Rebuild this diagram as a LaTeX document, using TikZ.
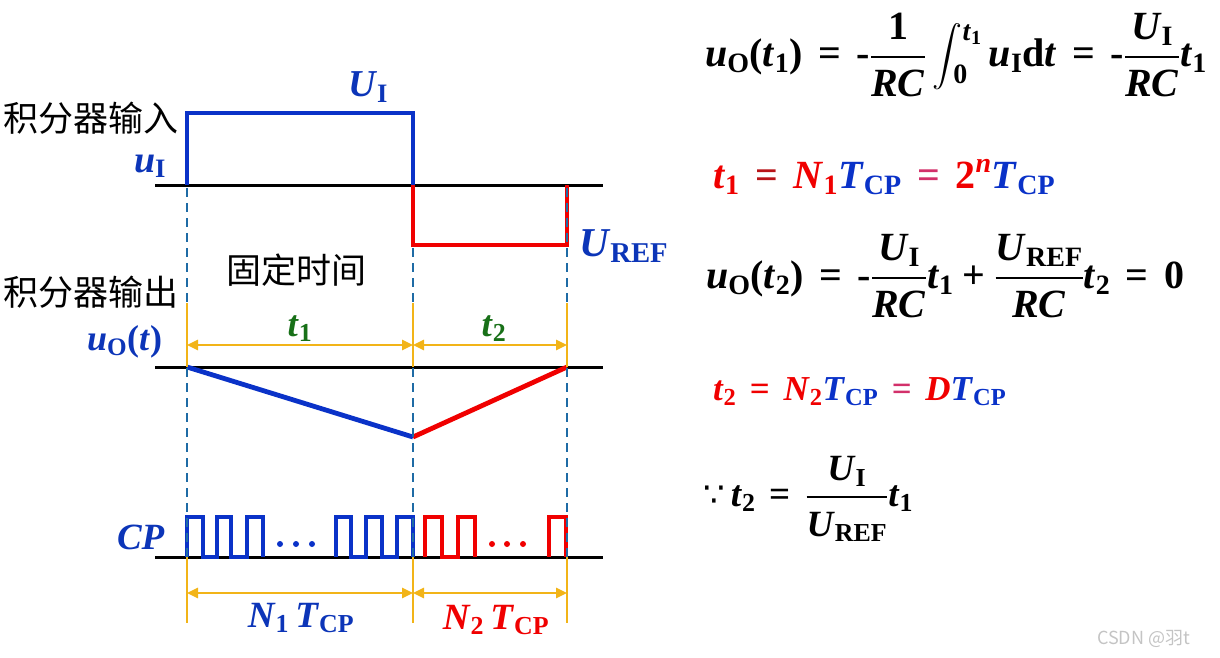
\documentclass[tikz,border=0pt]{standalone}
\usepackage{fix-cm}
\usepackage{amsmath}
\usepackage{fontspec}
\setmainfont{Liberation Serif}
\newfontfamily\cjk{Noto Sans CJK SC}
\newfontfamily\dvs{DejaVu Sans}
\usetikzlibrary{arrows.meta}
\definecolor{wblue}{HTML}{0A32C8}
\definecolor{lblue}{HTML}{0C35B8}
\definecolor{wred}{HTML}{F00000}
\definecolor{dred}{HTML}{B81418}
\definecolor{pinkeq}{HTML}{D2306A}
\definecolor{dashc}{HTML}{1F6BA5}
\definecolor{ylw}{HTML}{F2B418}
\definecolor{grn}{HTML}{187018}
\definecolor{wm}{HTML}{C4C4C4}
\newcommand\vi[1]{\textbf{\textit{#1}}}
\newcommand\su[1]{\textbf{#1}}
\newcommand\eqs{\mathrel{\mkern2mu\textbf{=}\mkern2mu}}
\newcommand\mns{\textbf{-}}
\newcommand\fr[2]{\genfrac{}{}{2.4pt}{0}{#1\rule[-7pt]{0pt}{7pt}}{\rule{0pt}{31pt}#2}}
\newcommand\bigint[2]{\mathop{\vcenter{\hbox{\scalebox{1.2}{$\displaystyle\int$}}}}\nolimits_{\mkern-6mu\raisebox{8pt}{$\scriptstyle #1$}}^{\raisebox{-6pt}{$\scriptstyle #2$}}}
\begin{document}
\begin{tikzpicture}[x=1pt,y=-1pt,
  sig/.style={line width=4.8pt, line join=miter},
  baseln/.style={line width=3pt, black},
  guide/.style={dashc, line width=2.4pt, dash pattern=on 9pt off 6pt},
  yl/.style={ylw, line width=2.5pt},
  dimarrow/.style={ylw, line width=2.5pt, {Triangle[length=11pt,width=10pt]}-{Triangle[length=11pt,width=10pt]}},
  lab/.style={inner sep=0pt, outer sep=0pt},
  cn/.style={lab, font=\cjk\fontsize{35}{40}\selectfont},
  sl/.style={lab, font=\fontsize{38}{44}\selectfont},
  ml/.style={lab, font=\fontsize{37}{42}\selectfont},
  eq/.style={lab, anchor=base west, font=\fontsize{40}{48}\selectfont}]
\useasboundingbox (0,0) rectangle (1220,658);

% baselines
\draw[baseln] (155,185) coordinate (inL) -- (603,185) coordinate (inR);
\draw[baseln] (155,367) coordinate (outL) -- (603,367) coordinate (outR);
\draw[baseln] (155,557) coordinate (cpL) -- (603,557) coordinate (cpR);

% input signal
\draw[sig, wblue] (187,185) -- (187,113) -- (413,113) -- (413,185);
\draw[sig, wred] (413,185) -- (413,245) -- (567,245) -- (567,185);

% output ramps
\coordinate (o1) at (187,367); \coordinate (o2) at (413,437); \coordinate (o3) at (567,367);
\draw[sig, wblue] (o1) -- (o2);
\draw[sig, wred] (o2) -- (o3);

% clock pulses
\draw[sig, wblue] (187,557) -- (187,517) -- (203,517) -- (203,557) -- (217,557) -- (217,517) -- (231,517) -- (231,557) -- (247,557) -- (247,517) -- (263,517) -- (263,557);
\draw[sig, wblue] (336,557) -- (336,517) -- (351,517) -- (351,557) -- (366,557) -- (366,517) -- (382,517) -- (382,557) -- (397,557) -- (397,517) -- (413,517) -- (413,557);
\draw[sig, wred] (425,557) -- (425,517) -- (442,517) -- (442,557) -- (458,557) -- (458,517) -- (475,517) -- (475,557);
\draw[sig, wred] (549,557) -- (549,517) -- (566,517) -- (566,557);
\foreach \x in {280,296,312} \fill[wblue] (\x,544) circle (3pt);
\foreach \x in {492,507,523} \fill[wred] (\x,544) circle (3pt);

% dashed guides
\draw[guide] (187,188) -- (187,557);
\draw[guide] (413,248) -- (413,557);
\draw[guide] (567,188) -- (567,557);

% yellow dimension lines
\draw[yl] (187,303) -- (187,367);
\draw[yl] (413,303) -- (413,367);
\draw[yl] (567,303) -- (567,367);
\draw[yl] (187,557) -- (187,623);
\draw[yl] (413,557) -- (413,623);
\draw[yl] (567,557) -- (567,623);
\coordinate (d1) at (187,345); \coordinate (d2) at (413,345); \coordinate (d3) at (567,345);
\coordinate (e1) at (187,593); \coordinate (e2) at (413,593); \coordinate (e3) at (567,593);
\draw[dimarrow] (d1) -- (d2);
\draw[dimarrow] (d2) -- (d3);
\draw[dimarrow] (e1) -- (e2);
\draw[dimarrow] (e2) -- (e3);

% left labels
\node[cn, anchor=west] (in) at (3,118) {积分器输入};
\node[cn, anchor=west] (out) at (3,292) {积分器输出};
\node[cn] (fix) at (296,270) {固定时间};
\node[sl, anchor=base, text=lblue] (UI) at (368,97) {$\vi{U}_{\su{I}}$};
\node[sl, anchor=base west, text=lblue] (uI) at (134,172) {$\vi{u}_{\su{I}}$};
\node[sl, anchor=base west, text=lblue, font=\fontsize{41}{46}\selectfont] (UREF) at (579,256) {$\vi{U}_{\su{REF}}$};
\node[ml, anchor=base west, text=lblue, font=\fontsize{36}{42}\selectfont] (uO) at (87,350) {$\vi{u}_{\su{O}}\textbf{(}\vi{t}\textbf{)}$};
\node[ml, anchor=base, text=grn] (t1) at (300,336) {$\vi{t}_{\su{1}}$};
\node[ml, anchor=base, text=grn] (t2) at (494,336) {$\vi{t}_{\su{2}}$};
\node[ml, anchor=base west, text=lblue] (CP) at (117,549) {\vi{CP}};
\node[ml, anchor=base, text=lblue] (N1) at (301,627) {$\vi{N}_{\su{1}}\,\vi{T}_{\su{CP}}$};
\node[ml, anchor=base, text=wred] (N2) at (496,629) {$\vi{N}_{\su{2}}\,\vi{T}_{\su{CP}}$};

% equations
\node[eq] (eq1) at (705,67) {$\vi{u}_{\su{O}}\textbf{(}\vi{t}_{\su{1}}\textbf{)}\eqs\mns\fr{\textbf{1}}{\vi{RC}}\bigint{\textbf{0}}{\vi{t}_{\su{1}}}\vi{u}_{\su{I}}\textbf{d}\vi{t}\eqs\mns\fr{\vi{U}_{\su{I}}}{\vi{RC}}\vi{t}_{\su{1}}$};
\node[eq] (eq2) at (713,188) {$\color{wred}\vi{t}_{\su{1}}\color{dred}\eqs\color{wred}\vi{N}_{\su{1}}\color{wblue}\vi{T}_{\su{CP}}\color{pinkeq}\eqs\color{wred}\textbf{2}^{\vi{n}}\color{wblue}\vi{T}_{\su{CP}}$};
\node[eq] (eq3) at (706,288) {$\vi{u}_{\su{O}}\textbf{(}\vi{t}_{\su{2}}\textbf{)}\eqs\mns\fr{\vi{U}_{\su{I}}}{\vi{RC}}\vi{t}_{\su{1}}\mathbin{\textbf{+}}\fr{\vi{U}_{\su{REF}}}{\vi{RC}}\vi{t}_{\su{2}}\eqs\textbf{0}$};
\node[eq, font=\fontsize{35}{42}\selectfont] (eq4) at (713,400) {$\color{wred}\vi{t}_{\su{2}}\eqs\vi{N}_{\su{2}}\color{wblue}\vi{T}_{\su{CP}}\color{pinkeq}\eqs\color{wred}\vi{D}\color{wblue}\vi{T}_{\su{CP}}$};
\node[eq, font=\fontsize{37}{42}\selectfont] (eq5) at (703,506) {$\text{\dvs\fontsize{34}{38}\selectfont ∵}\,\vi{t}_{\su{2}}\eqs\fr{\vi{U}_{\su{I}}}{\vi{U}_{\su{REF}}}\vi{t}_{\su{1}}$};

% watermark
\node[lab, anchor=base west, text=wm, font=\cjk\fontsize{18}{22}\selectfont] (wmk) at (1097,644) {CSDN @羽t};
\end{tikzpicture}
\end{document}
